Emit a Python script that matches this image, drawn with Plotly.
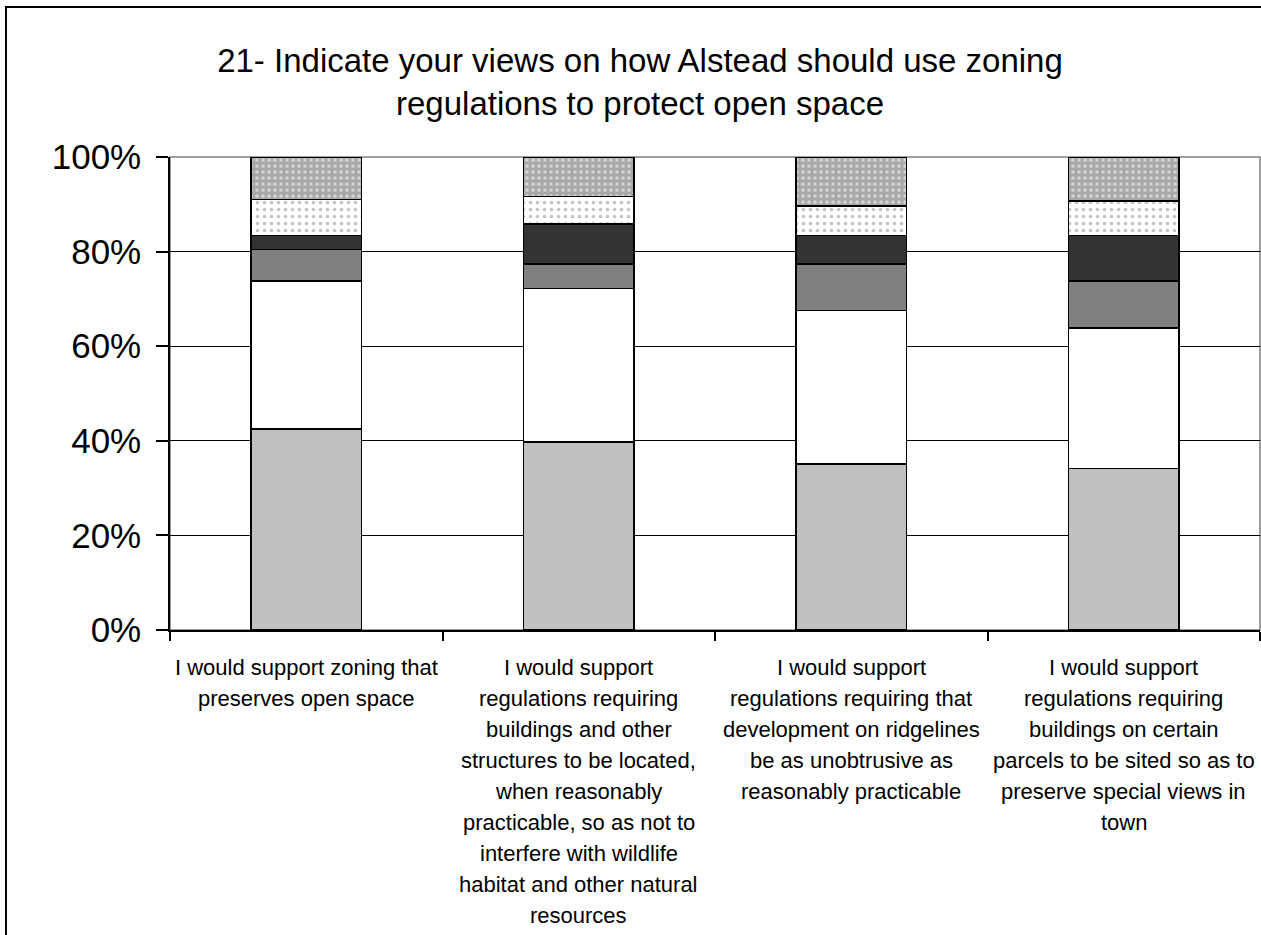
import plotly.graph_objects as go

# ---------------- data ----------------
label_lines = [
    ["I would support zoning that", "preserves open space"],
    ["I would support", "regulations requiring", "buildings and other",
     "structures to be located,", "when reasonably", "practicable, so as not to",
     "interfere with wildlife", "habitat and other natural", "resources"],
    ["I would support", "regulations requiring that", "development on ridgelines",
     "be as unobtrusive as", "reasonably practicable"],
    ["I would support", "regulations requiring", "buildings on certain",
     "parcels to be sited so as to", "preserve special views in", "town"],
]
categories = [" ".join(l) for l in label_lines]

series_names = ["Strongly agree", "Agree", "Disagree", "Strongly disagree",
                "No opinion", "No answer"]
s1 = [42.5, 39.7, 35.1, 34.1]
s2 = [31.3, 32.5, 32.5, 29.7]
s3 = [6.6, 5.2, 9.8, 10.0]
s4 = [3.0, 8.4, 6.0, 9.6]
s5 = [7.6, 5.9, 6.2, 7.3]
s6 = [9.0, 8.3, 10.4, 9.3]
series_values = [s1, s2, s3, s4, s5, s6]

y_tick_vals = [0, 0.2, 0.4, 0.6, 0.8, 1.0]
y_tick_text = ["0%", "20%", "40%", "60%", "80%", "100%"]

title_text = ("21- Indicate your views on how Alstead should use zoning<br>"
              "regulations to protect open space")

# ---------------- styles ----------------
W, H = 1261, 935
ML, MR, MT, MB = 170, 1, 157, 305
PW, PH = W - ML - MR, H - MT - MB
FONT = "Liberation Sans, Arial, sans-serif"

styles = [
    dict(color="#c0c0c0"),
    dict(color="#ffffff"),
    dict(color="#808080"),
    dict(color="#333333"),
    dict(color="#ffffff", pattern=dict(shape=".", fgcolor="#8c8c8c",
                                       bgcolor="#ffffff", size=7, solidity=0.22)),
    dict(color="#b4b4b4", pattern=dict(shape=".", fgcolor="#ffffff",
                                       bgcolor="#a8a8a8", size=6, solidity=0.3)),
]

fig = go.Figure()
for name, vals, st in zip(series_names, series_values, styles):
    fig.add_trace(go.Bar(
        x=categories, y=[v / 100 for v in vals], name=name,
        marker=dict(line=dict(color="black", width=1.5), **st),
    ))

annotations = []
for cat, lines in zip(categories, label_lines):
    for i, line in enumerate(lines):
        annotations.append(dict(
            x=cat, xref="x", y=0, yref="paper", yanchor="middle",
            yshift=-(37 + 31 * i), text=line, showarrow=False,
            font=dict(family=FONT, size=22, color="black"),
        ))

def px_to_paper_x(px):
    return (px - ML) / PW

def px_to_paper_y(py):
    return (H - MB - py) / PH

shapes = [
    # grey plot-area border (top & right)
    dict(type="rect", xref="paper", yref="paper", x0=0, y0=0, x1=1, y1=1,
         line=dict(color="#808080", width=1.5), layer="below"),
    # outer chart frame
    dict(type="rect", xref="paper", yref="paper",
         x0=px_to_paper_x(6), y0=px_to_paper_y(950),
         x1=px_to_paper_x(1280), y1=px_to_paper_y(7),
         line=dict(color="black", width=2), layer="above"),
]

fig.update_layout(
    width=W, height=H,
    margin=dict(l=ML, r=MR, t=MT, b=MB, pad=0),
    barmode="stack", bargap=0.594,
    showlegend=False,
    plot_bgcolor="white", paper_bgcolor="white",
    title=dict(text=title_text, x=640 / W, xanchor="center",
               y=1 - 72 / H, yanchor="top", yref="container",
               font=dict(family=FONT, size=33, color="black")),
    annotations=annotations,
    shapes=shapes,
)
fig.update_xaxes(
    type="category", range=[-0.5, 3.5], showticklabels=False,
    ticks="outside", tickson="boundaries", ticklen=9, tickwidth=1.5,
    tickcolor="black", showline=True, linecolor="black", linewidth=1.5,
    showgrid=False, zeroline=False,
)
fig.update_yaxes(
    range=[0, 1], tickvals=y_tick_vals, ticktext=y_tick_text,
    ticks="outside", ticklen=12, tickwidth=1.5, tickcolor="black",
    ticklabelstandoff=8,
    tickfont=dict(family=FONT, size=35, color="black"),
    showline=True, linecolor="black", linewidth=1.5,
    showgrid=True, gridcolor="black", gridwidth=1, zeroline=False,
)

fig.write_html("out.html",
               config={"displayModeBar": False},
               post_script="document.body.style.margin='0';"
                           "document.body.style.overflow='hidden';")
